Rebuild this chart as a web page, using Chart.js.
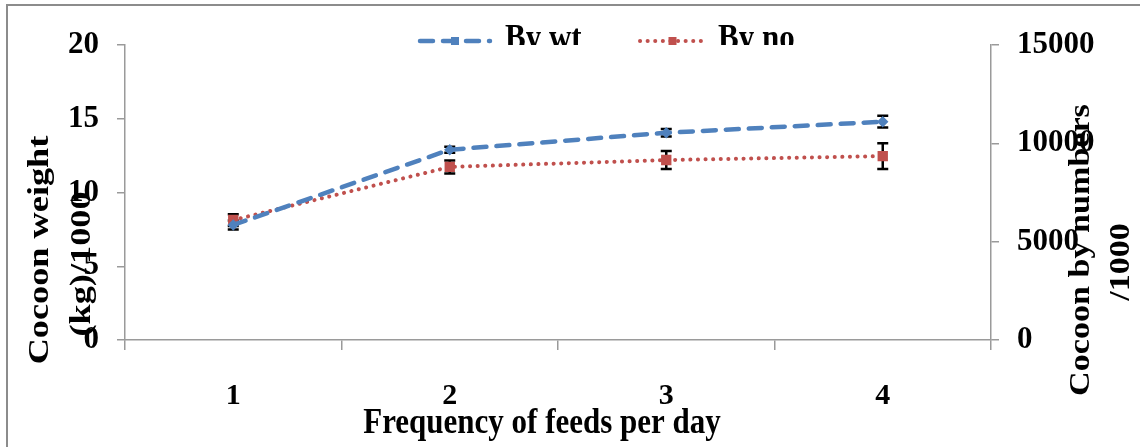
<!DOCTYPE html>
<html>
<head>
<meta charset="utf-8">
<script src="https://cdn.jsdelivr.net/npm/chart.js@4.4.0/dist/chart.umd.min.js"></script>
<style>
  html, body { margin: 0; padding: 0; background: #fff; }
  canvas { display: block; }
</style>
</head>
<body>
<canvas id="cocoonChart" width="1140" height="447"></canvas>
<script>
// values
const feeds = ['1', '2', '3', '4'];
const byWt = [7.8, 12.9, 14.05, 14.8];
const byWtErr = [0.3, 0.2, 0.25, 0.4];
const byNo = [6100, 8800, 9150, 9350];
const byNoErr = [300, 330, 460, 650];
const leftTicks = [0, 5, 10, 15, 20];
const rightTicks = [0, 5000, 10000, 15000];

const serif = 'Liberation Serif';
const axisGray = '#9a9a9a';

// error bars, drawn through the chart scales
const errorBars = {
  id: 'errorBars',
  beforeDatasetsDraw(chart) {
    const ctx = chart.ctx;
    chart.data.datasets.forEach((ds, i) => {
      if (!ds.errors) return;
      const meta = chart.getDatasetMeta(i);
      const scale = chart.scales[ds.yAxisID];
      ctx.save();
      ctx.strokeStyle = '#000';
      ctx.lineWidth = 2.5;
      meta.data.forEach((pt, j) => {
        const top = scale.getPixelForValue(ds.data[j] + ds.errors[j]);
        const bot = scale.getPixelForValue(ds.data[j] - ds.errors[j]);
        ctx.beginPath();
        ctx.moveTo(pt.x, top); ctx.lineTo(pt.x, bot);
        ctx.moveTo(pt.x - 5.5, top); ctx.lineTo(pt.x + 5.5, top);
        ctx.moveTo(pt.x - 5.5, bot); ctx.lineTo(pt.x + 5.5, bot);
        ctx.stroke();
      });
      ctx.restore();
    });
  }
};

// frame, titles and the (clipped) legend
const decorations = {
  id: 'decorations',
  beforeDraw(chart) {
    const ctx = chart.ctx;
    ctx.save();
    ctx.strokeStyle = '#8c8c8c';
    ctx.lineWidth = 2;
    ctx.strokeRect(7, 5, 1160, 470);
    ctx.restore();
  },
  afterDraw(chart) {
    const ctx = chart.ctx;
    ctx.save();
    ctx.fillStyle = '#000';
    ctx.font = 'bold 31px "' + serif + '"';
    ctx.textAlign = 'center';
    ctx.textBaseline = 'middle';
    ctx.save();
    ctx.translate(542, 424);
    ctx.scale(1, 1.15);
    ctx.fillText('Frequency of feeds per day', 0, 0);
    ctx.restore();

    const vText = (txt, x, y, stretch) => {
      ctx.save();
      ctx.translate(x, y);
      ctx.scale(0.95, stretch);
      ctx.rotate(-Math.PI / 2);
      ctx.fillText(txt, 0, 0);
      ctx.restore();
    };
    vText('Cocoon weight', 40, 250, 1.17);
    vText('(kg)/1000', 82, 264, 1.17);
    vText('Cocoon by numbers', 1081, 250, 1.1);
    vText('/1000', 1121, 262, 1.1);

    // legend, cut off at the top of the plot like the original
    ctx.save();
    ctx.beginPath();
    ctx.rect(0, 0, 1140, 45);
    ctx.clip();
    const items = [
      { ds: chart.data.datasets[0], x0: 420, x1: 490, tx: 505 },
      { ds: chart.data.datasets[1], x0: 640, x1: 705, tx: 718 }
    ];
    items.forEach(it => {
      ctx.save();
      ctx.strokeStyle = it.ds.borderColor;
      ctx.lineWidth = it.ds.borderWidth;
      ctx.lineCap = 'round';
      ctx.setLineDash(it.ds.borderDash);
      ctx.beginPath();
      ctx.moveTo(it.x0, 41); ctx.lineTo(it.x1, 41);
      ctx.stroke();
      ctx.restore();
      ctx.fillStyle = it.ds.pointBackgroundColor;
      const mx = (it.x0 + it.x1) / 2;
      ctx.fillRect(mx - 4, 37, 8, 8);
      ctx.fillStyle = '#000';
      ctx.textAlign = 'left';
      ctx.textBaseline = 'alphabetic';
      ctx.save();
      ctx.translate(it.tx, 49);
      ctx.scale(1, 1.15);
      ctx.fillText(it.ds.label, 0, 0);
      ctx.restore();
    });
    ctx.restore();
    ctx.restore();
  }
};

new Chart(document.getElementById('cocoonChart').getContext('2d'), {
  type: 'line',
  data: {
    labels: feeds,
    datasets: [
      {
        label: 'By wt',
        data: byWt,
        errors: byWtErr,
        yAxisID: 'yWt',
        borderColor: '#4f81bd',
        borderWidth: 4.5,
        borderDash: [13, 10],
        borderCapStyle: 'round',
        pointStyle: 'rectRot',
        pointRadius: 2.5,
        pointBackgroundColor: '#4f81bd',
        pointBorderColor: '#4f81bd',
        fill: false,
        tension: 0
      },
      {
        label: 'By no',
        data: byNo,
        errors: byNoErr,
        yAxisID: 'yNo',
        borderColor: '#c0504d',
        borderWidth: 4,
        borderDash: [0.1, 7.5],
        borderCapStyle: 'round',
        pointStyle: 'rect',
        pointRadius: 4.5,
        pointBackgroundColor: '#c0504d',
        pointBorderColor: '#c0504d',
        fill: false,
        tension: 0
      }
    ]
  },
  options: {
    responsive: false,
    animation: false,
    layout: { padding: { top: 45, left: 0, right: 0, bottom: 0 } },
    plugins: {
      legend: { display: false },
      tooltip: { enabled: false }
    },
    scales: {
      x: {
        offset: true,
        grid: { offset: true, drawOnChartArea: false, drawTicks: true, tickLength: 10, color: axisGray, lineWidth: 1.5 },
        border: { color: axisGray, width: 1.5 },
        ticks: { color: '#000', padding: 28, font: { family: serif, weight: 'bold', size: 30 } },
        afterFit(scale) { scale.height = 107; }
      },
      yWt: {
        position: 'left',
        min: 0,
        max: 20,
        afterBuildTicks(scale) { scale.ticks = leftTicks.map(v => ({ value: v })); },
        grid: { drawOnChartArea: false, drawTicks: true, tickLength: 8, color: axisGray, lineWidth: 1.5 },
        border: { color: axisGray, width: 1.5 },
        ticks: { color: '#000', padding: 18, font: { family: serif, weight: 'bold', size: 31 }, callback: v => String(v) },
        afterFit(scale) { scale.width = 125; }
      },
      yNo: {
        position: 'right',
        min: 0,
        max: 15000,
        afterBuildTicks(scale) { scale.ticks = rightTicks.map(v => ({ value: v })); },
        grid: { drawOnChartArea: false, drawTicks: true, tickLength: 8, color: axisGray, lineWidth: 1.5 },
        border: { color: axisGray, width: 1.5 },
        ticks: { color: '#000', padding: 18, font: { family: serif, weight: 'bold', size: 31 }, callback: v => String(v) },
        afterFit(scale) { scale.width = 149; }
      }
    }
  },
  plugins: [errorBars, decorations]
});
</script>
</body>
</html>
